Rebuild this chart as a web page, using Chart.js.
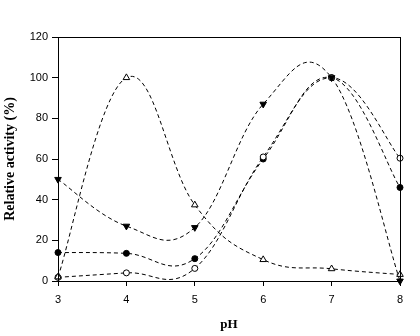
<!DOCTYPE html>
<html><head><meta charset="utf-8">
<script src="https://cdn.jsdelivr.net/npm/chart.js@4"></script>
<style>html,body{margin:0;padding:0;background:#fff}#w{width:420px;height:336px}</style>
</head><body><div id="w"><canvas id="c"></canvas></div>
<script>
const pH = [3, 4, 5, 6, 7, 8];
const filledCircle = [14, 13.6, 11, 60, 100, 46];
const openCircle = [1.8, 4, 6.2, 61, 100, 60.4];
const filledTriangleDown = [50, 27, 26.3, 87, 100, 0];
const openTriangle = [2, 100, 37.4, 10.5, 6, 3.2];
const yTicks = [0, 20, 40, 60, 80, 100, 120];

function pts(vals){ return pH.map((x,i)=>({x:x,y:vals[i]})); }
function ds(vals, style, fill, rot, r){
  return {data: pts(vals), borderColor:'#000', borderWidth:1, borderDash:[4,3],
    tension:0.4, pointStyle:style, pointRadius:r, pointBorderWidth:1,
    pointBackgroundColor:fill, pointBorderColor:'#000', pointRotation:rot||0, clip:false};
}
// uniform Catmull-Rom style smoothing of the line built by Chart.js
const smooth = {id:'smooth', beforeDatasetDraw(chart, args){
  const line = args.meta.dataset; if(!line) return;
  line.updateControlPoints(chart.chartArea, 'x');
  const p = args.meta.data, n = p.length, k = 0.2;
  for(let i=0;i<n;i++){
    const a = p[Math.max(i-1,0)], b = p[Math.min(i+1,n-1)];
    const dx = (b.x-a.x)*k, dy = (b.y-a.y)*k;
    p[i].cp1x = p[i].x-dx; p[i].cp1y = p[i].y-dy;
    p[i].cp2x = p[i].x+dx; p[i].cp2y = p[i].y+dy;
  }
  line._path = undefined;
}};
const frame = {id:'frame', afterDraw(c){const a=c.chartArea,x=c.ctx;x.save();x.strokeStyle='#000';x.lineWidth=1;
  x.strokeRect(Math.round(a.left)+0.5,Math.round(a.top)+0.5,Math.round(a.right-a.left),Math.round(a.bottom-a.top));x.restore();}};
new Chart(document.getElementById('c'), {
  type:'line',
  data:{datasets:[
    ds(openTriangle,'triangle','#fff',0,3.8),
    ds(filledTriangleDown,'triangle','#000',180,3.8),
    ds(openCircle,'circle','#fff',0,3),
    ds(filledCircle,'circle','#000',0,3)
  ]},
  options:{responsive:true, maintainAspectRatio:false, animation:false,
    layout:{padding:{top:37,right:20,left:0,bottom:0}},
    plugins:{legend:{display:false},tooltip:{enabled:false}},
    scales:{
      x:{type:'linear',min:3,max:8,
        afterBuildTicks:s=>{s.ticks=pH.map(v=>({value:v}));},
        afterFit:s=>{s.height=55;},
        grid:{drawOnChartArea:false,drawTicks:true,tickLength:5,color:'#000'},
        border:{color:'#000'},
        ticks:{color:'#000',font:{family:'Liberation Sans',size:11},padding:7},
        title:{display:true,text:'pH',color:'#000',font:{family:'Liberation Serif',size:13,weight:'bold'},padding:{top:8}}
      },
      y:{min:0,max:120,
        afterBuildTicks:s=>{s.ticks=yTicks.map(v=>({value:v}));},
        afterFit:s=>{s.width=58;},
        grid:{drawOnChartArea:false,drawTicks:true,tickLength:6,color:'#000'},
        border:{color:'#000'},
        ticks:{color:'#000',font:{family:'Liberation Sans',size:11},padding:4},
        title:{display:true,text:'Relative activity (%)',color:'#000',font:{family:'Liberation Serif',size:14,weight:'bold'},padding:{top:2,bottom:2}}
      }
    }
  },
  plugins:[smooth, frame]
});
</script></body></html>
